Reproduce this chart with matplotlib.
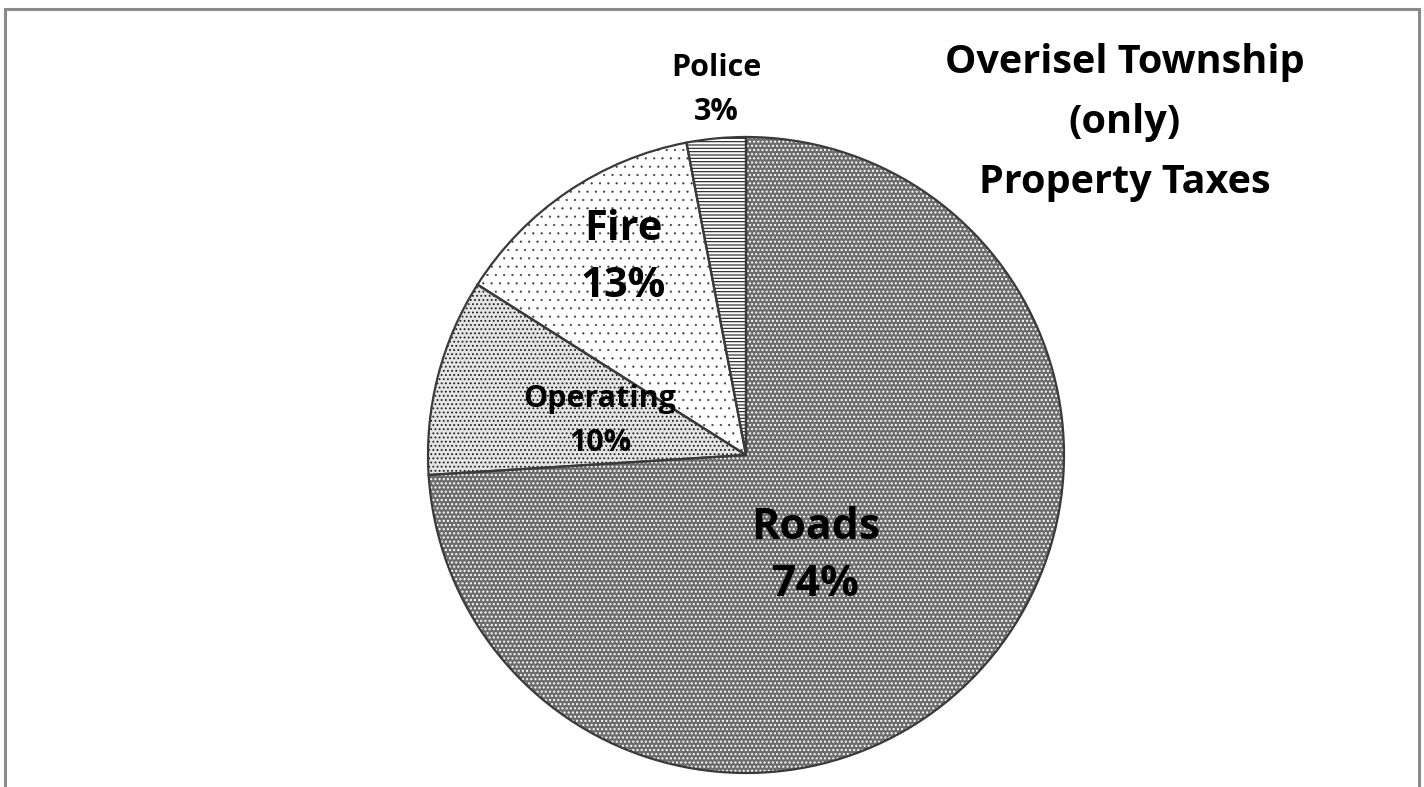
import matplotlib
matplotlib.use("Agg")
import matplotlib.pyplot as plt
from matplotlib.patches import Rectangle

# slice data (clockwise from 12 o'clock)
categories = ["Roads", "Operating", "Fire", "Police"]
shares = [74, 10, 13, 3]
pct_labels = ["74%", "10%", "13%", "3%"]
title_lines = ["Overisel Township", "(only)", "Property Taxes"]

W, H = 1424, 787
fig = plt.figure(figsize=(W / 100, H / 100), dpi=100)
ax = fig.add_axes([0, 0, 1, 1])

center = (746, H - 455)
radius = 318

# fill layer: base tone + hatch texture
faces = ["#6c6c6c", "#e4e4e4", "#ffffff", "#ffffff"]
hatch_col = ["#ffffff", "#1e1e1e", "#3c3c3c", "#1e1e1e"]
hatches = ["....", "....", "..", "-----"]
hatch_lw = [1.0, 0.8, 0.35, 0.8]
wedges, _ = ax.pie(shares, startangle=90, counterclock=False, center=center,
                   radius=radius, colors=faces, frame=True,
                   wedgeprops=dict(linewidth=0))
for w, h, hc, lw in zip(wedges, hatches, hatch_col, hatch_lw):
    w.set_hatch(h)
    w.set_edgecolor(hc)
    w.set_linewidth(0)
    if hasattr(w, "set_hatch_linewidth"):
        w.set_hatch_linewidth(lw)

# outline layer
ax.pie(shares, startangle=90, counterclock=False, center=center, radius=radius,
       frame=True, wedgeprops=dict(fill=False, edgecolor="#3a3a3a", linewidth=1.6))
ax.set_xlim(0, W)
ax.set_ylim(0, H)
ax.set_aspect("equal")
ax.axis("off")

font = "Open Sans"
ax.text(816, H - 556, f"{categories[0]}\n{pct_labels[0]}", ha="center", va="center",
        fontsize=31, fontweight="bold", family=font, linespacing=1.4)
ax.text(600, H - 421, f"{categories[1]}\n{pct_labels[1]}", ha="center", va="center",
        fontsize=22, fontweight="bold", family=font, linespacing=1.65)
ax.text(623, H - 258, f"{categories[2]}\n{pct_labels[2]}", ha="center", va="center",
        fontsize=30, fontweight="bold", family=font, linespacing=1.5)
ax.text(716, H - 90, f"{categories[3]}\n{pct_labels[3]}", ha="center", va="center",
        fontsize=22, fontweight="bold", family=font, linespacing=1.6)
ax.text(1125, H - 123, "\n".join(title_lines), ha="center", va="center",
        fontsize=28.5, fontweight="bold", family=font, linespacing=1.7)

# outer chart border (bottom edge is cut off)
fig.patches.append(Rectangle((5 / W, -0.05), (1419 - 5) / W, 1.05 - 9 / H,
                             transform=fig.transFigure, fill=False,
                             edgecolor="#8a8a8a", linewidth=2.2))

fig.savefig("out.png", dpi=100)
